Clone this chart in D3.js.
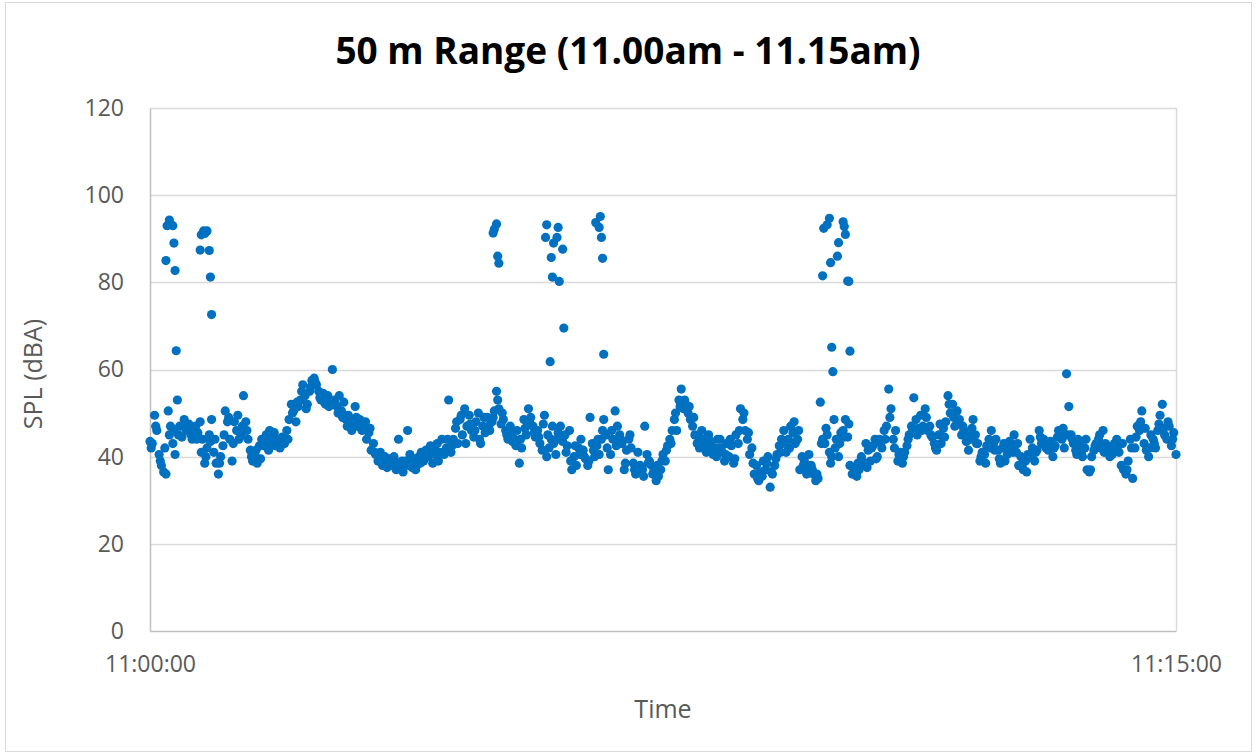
<!DOCTYPE html>
<html><head><meta charset="utf-8">
<script src="https://cdn.jsdelivr.net/npm/d3@7"></script>
<style>body{margin:0;background:#fff} svg{display:block} text{font-family:"Open Sans",sans-serif}</style>
</head><body><svg id="chart" width="1256" height="755"></svg>
<script>
const chartTitle = "50 m Range (11.00am - 11.15am)";
const xAxisTitle = "Time";
const yAxisTitle = "SPL (dBA)";
const startTime = "11:00:00";
const endTime = "11:15:00";
// readings at even seconds (0, 2, 4, ... 900)
const splEven = [
43.5,43,49.5,46,40.5,38,36.5,36,50.5,47,
43,40.5,53,47,44.5,48.5,46,47.5,45,46,
47,45.5,48,44,38.5,42,45,48.5,41,38.5,
36,40,42.5,50.5,48,44,39,48,46,44,
45,54,48,44,41.5,39,40.5,38.5,42.5,44,
42.5,45,41.5,43,44,42.5,43.5,42,44.5,43,
46,48.5,52,50.5,48,51.5,53,56.5,54,52,
55,57.5,58,56.5,55,53,54.5,52,54,52.5,
60,53,51.5,54,50.5,52.5,48.5,49.5,47.5,48,
51.5,47,48.5,46,47,44,45.5,41.5,43,40.5,
39,41,38,40,37.5,39.5,38,40,37,44,
38,36.5,39,46,40.5,37.5,39.5,38,40,41,
39,41.5,40,42.5,38.5,40.5,43,41,44,40.5,
42,53,41,44,46.5,43,48.5,45,51,47,
49.5,46,44.5,48,50,43,47,45.5,49,46,
48,50.5,55,51,47.5,48.5,46,44,47,43.5,
44,46,38.5,42,48.5,45,51,49,47,44.5,
46,43,41.5,49.5,40,42,44,43,40.5,45.5,
47,43.5,45,42.5,46,37,40,38,42,44,
41.5,39.5,38,49,43,40,42.5,40.5,44,48.5,
45,37,40.5,44,50.5,47,45,43,37,41.5,
44,42,38.5,36,41,38,37,47,40.5,39,
38,36.5,34.5,35.5,37,40.5,39,42.5,44,46,
48.5,46,53,55.5,51,52,50,48.5,47,45,
43,42,46,44,41,45,43.5,40.5,42,44,
44,41,39,43,40,42.5,38.5,45,43,51,
48.5,46,44,40.5,42,36,38,34.5,36.5,39,
37,40,33,36,38,40.5,42.5,44,46,41,
44,47,45.5,43,44,37,40,39,36,40.5,
38,36,34.5,35,52.5,44,43,45,41,40,
48.5,44,40,45.5,46,48.5,44.5,38,36,37,
35.5,37,40,38,43,41.5,39,42.5,44,40,
44,42,46,47,55.5,51,44,46,39,41,
38.5,41,42.5,45,47,53.5,48.5,46.5,49.5,47,
51,46,47,44.5,43,41.5,45,43,46.5,48,
54,50,52,47,50.5,48.5,45,46,43.5,41.5,
44,48.5,45,43,39,41,40.5,42.5,44,46,
43,44,41.5,38.5,42,39,40.5,43.5,42.5,45,
41,38,40,37,39,40.5,44,42,39,41.5,
46,43,44,42,41.5,43.5,40,42.5,44.5,45,
44,42,59,51.5,45,43,41.5,44,42.5,40,
42,37,36.5,40,41.5,43,44,42,46,43,
42.5,40,40.5,43,44,41,38,37,36,39,
44,35,42,47,46,50.5,43,41.5,40,45,
44,42,46,49.5,52,45,44,47,42.5,45.5,
40.5
];
// extra readings at seconds 1, 5, 9, ... 897
const splExtra = [
42,47,39,42,45,
46,45,47,46.5,44,
44,41,40,43.5,44,
38.5,45,49,43,49.5,
47,46,40,41.5,39.5,
44,46,45.5,44,43,
44,50,52.5,55,51,
56,57,53.5,52.5,51.5,
52,50,49,47,46,
49,47.5,48,46.5,41,
40.5,39.5,38.5,39,38.5,
39,38,39.5,37,38.5,
40,41,42,39,41,
44,42.5,48,49.5,43,
47.5,46,44,49,47,
49,53,50,45,45.5,
42.5,44,46.5,48,45.5,
44.5,47.5,45,47,44,
44.5,41,39,42.5,40.5,
40,39,41.5,44,46,
42,46,42.5,44,38.5,
45,37,36.5,35.5,38.5,
36,38,39,41.5,43,
50,51.5,53,51.5,49,
44.5,43,42.5,41.5,40,
42,40.5,44,39.5,46,
50,45.5,38.5,35,35.5,
38.5,36.5,39.5,41,43,
42,48,46,38,37.5,
37,36,43,46.5,38.5,
42,43,44.5,47.5,37.5,
38.5,39,37.5,42,39.5,
43,44,49,42,40.5,
40,44,46,45,46,
49,45,42,47.5,44.5,
52,49,47.5,47,45,
46.5,43,40,38.5,42,
41.5,39.5,43,42,41,
43,38,36.5,40,41,
44.5,42.5,43,42,46,
46.5,45,44,40.5,41,
44,37,42.5,45,41,
41.5,42,42.5,43,37,
42,44.5,48,46.5,42,
43,47.5,46.5,48,44
];
// short high-level events: seconds after start, and level
const peakSeconds = [17,15,20,21,14,22,23, 47,50,45,44,52,53,54,48, 304,301,302,305,306,
  348,358,347,354,357,362,352,353,359,363,351, 395,391,394,396,397,398,
  596,591,594,608,609,610,604,603,597,590,612,613,598,614,599];
const peakValues = [94.3,93,93,89,85,82.7,64.3, 91.8,91.8,90.9,87.4,87.3,81.2,72.6,91.2, 93.4,91.3,92.2,86,84.4,
  93.2,92.6,90.3,89,90.3,87.6,85.7,81.2,80.2,69.5,61.8, 95.1,93.7,92.6,90.3,85.5,63.5,
  94.7,92.4,93.2,93.9,92.8,91,89.1,86,84.5,81.5,80.3,80.2,65.1,64.2,59.5];
const yTicks = [0,20,40,60,80,100,120];
const xTickLabels = ["11:00:00","11:15:00"];

const parseT = d3.timeParse("%H:%M:%S");
const t0 = parseT(startTime), t1 = parseT(endTime);
const at = s => new Date(+t0 + s*1000);
const points = splEven.map((v,i)=>({t:at(i*2), v}))
  .concat(splExtra.map((v,i)=>({t:at(i*4+1), v})))
  .concat(peakSeconds.map((s,i)=>({t:at(s), v:peakValues[i]})));

const svg = d3.select("#chart");
const L=150, R=1176, T=108, B=631;
const x = d3.scaleTime().domain([t0,t1]).range([L,R]);
const y = d3.scaleLinear().domain([0,120]).range([B,T]);

svg.append("rect").attr("x",5.5).attr("y",2.5).attr("width",1246).attr("height",749)
  .attr("fill","#fff").attr("stroke","#d9d9d9");

// gridlines
svg.append("g").selectAll("line").data(yTicks.filter(d=>d>0)).join("line")
  .attr("x1",L).attr("x2",R).attr("y1",d=>Math.round(y(d))+0.5).attr("y2",d=>Math.round(y(d))+0.5)
  .attr("stroke","#d9d9d9").attr("stroke-width",1.5);
svg.append("line").attr("x1",R+0.5).attr("x2",R+0.5).attr("y1",T).attr("y2",B)
  .attr("stroke","#d9d9d9").attr("stroke-width",1.5);

// axes
const yAxis = svg.append("g").attr("transform",`translate(${L},0)`)
  .call(d3.axisLeft(y).tickValues(yTicks).tickSize(0).tickPadding(26));
yAxis.select(".domain").attr("stroke","#bfbfbf").attr("stroke-width",1.5);
yAxis.selectAll("text").attr("fill","#595959").style("font-size","23px").style("font-family","'Open Sans'");

const xAxis = svg.append("g").attr("transform",`translate(0,${B})`)
  .call(d3.axisBottom(x).tickValues([t0,t1]).tickSize(0).tickPadding(25)
    .tickFormat((d,i)=>xTickLabels[i]));
xAxis.select(".domain").attr("stroke","#bfbfbf").attr("stroke-width",1.5);
xAxis.selectAll("text").attr("fill","#595959").style("font-size","23px").style("font-family","'Open Sans'");

// points
svg.append("g").selectAll("circle").data(points).join("circle")
  .attr("cx",d=>x(d.t)).attr("cy",d=>y(d.v)).attr("r",4.6).attr("fill","#0070C0");

// titles
svg.append("text").attr("x",628).attr("y",64).attr("text-anchor","middle")
  .style("font-size","37px").style("font-weight","bold").attr("fill","#000").text(chartTitle);
svg.append("text").attr("x",(L+R)/2).attr("y",718).attr("text-anchor","middle")
  .style("font-size","25px").attr("fill","#595959").text(xAxisTitle);
svg.append("text").attr("transform","translate(42,374) rotate(-90)").attr("text-anchor","middle")
  .style("font-size","25px").attr("fill","#595959").text(yAxisTitle);
</script></body></html>
